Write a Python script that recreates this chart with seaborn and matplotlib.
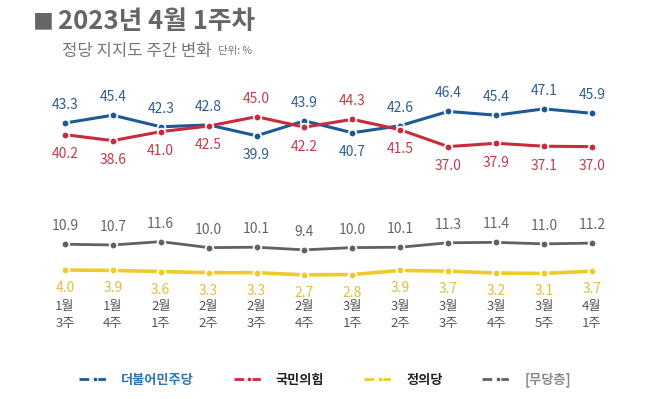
import pandas as pd
import matplotlib.pyplot as plt
import seaborn as sns
from matplotlib.lines import Line2D

# 주차 라벨
weeks = ['1월\n3주', '1월\n4주', '2월\n1주', '2월\n2주', '2월\n3주', '2월\n4주',
         '3월\n1주', '3월\n2주', '3월\n3주', '3월\n4주', '3월\n5주', '4월\n1주']

# 정당별 지지도 (%)
minjoo = [43.3, 45.4, 42.3, 42.8, 39.9, 43.9, 40.7, 42.6, 46.4, 45.4, 47.1, 45.9]
ppp = [40.2, 38.6, 41.0, 42.5, 45.0, 42.2, 44.3, 41.5, 37.0, 37.9, 37.1, 37.0]
justice = [4.0, 3.9, 3.6, 3.3, 3.3, 2.7, 2.8, 3.9, 3.7, 3.2, 3.1, 3.7]
nonpartisan = [10.9, 10.7, 11.6, 10.0, 10.1, 9.4, 10.0, 10.1, 11.3, 11.4, 11.0, 11.2]

sns.set_style('white')
plt.rcParams['font.family'] = ['Noto Sans CJK KR', 'DejaVu Sans']

fig = plt.figure(figsize=(6.5, 3.99), dpi=100)
ax = fig.add_axes([0.063, 0.2857, 0.8846, 0.4687])

x = list(range(len(weeks)))
series = [
    ('더불어민주당', minjoo, '#1d5996', '#2f5f8c', 2.2),
    ('국민의힘', ppp, '#c92a3c', '#c23b4b', 2.2),
    ('정의당', justice, '#efcb2a', '#e3c441', 2.6),
    ('[무당층]', nonpartisan, '#616161', '#666666', 2.0),
]

for name, vals, col, lab_col, lw in series:
    sns.lineplot(x=x, y=vals, ax=ax, color=col, linewidth=lw, marker='o',
                 markersize=5.5, markeredgecolor='white', markeredgewidth=1.3)

def put_labels(vals, other, lab_col, always=None, down=-14):
    for i, v in enumerate(vals):
        if always is not None:
            up = always
        else:
            up = v >= other[i]
        ax.annotate(f'{v:.1f}', (i, v), xytext=(0, 13 if up else down),
                    textcoords='offset points', ha='center', va='center',
                    fontsize=10, color=lab_col)

put_labels(minjoo, ppp, '#2f5f8c')
put_labels(ppp, minjoo, '#c23b4b')
put_labels(nonpartisan, None, '#666666', always=True)
put_labels(justice, None, '#dcc043', always=False, down=-13)

ax.set_xlim(-0.5, 11.5)
ax.set_ylim(0, 50)
ax.set_xticks(x)
ax.set_xticklabels(weeks, fontsize=9.5, color='#555555', linespacing=1.4)
ax.tick_params(axis='x', length=0, pad=11)
ax.set_yticks([])
sns.despine(ax=ax, left=True, bottom=True)

# 제목
fig.text(0.05, 0.945, '■', fontsize=15, color='#666666', va='center', ha='left')
fig.text(0.09, 0.945, '2023년 4월 1주차', fontsize=18.5, fontweight='bold',
         color='#666666', va='center', ha='left')
fig.text(0.095, 0.872, '정당 지지도 주간 변화', fontsize=12, color='#777777',
         va='center', ha='left')
fig.text(0.336, 0.872, '단위: %', fontsize=7.5, color='#777777',
         va='center', ha='left')

# 범례
handles = [Line2D([0], [0], color=col, linewidth=2, linestyle=(0, (3.5, 2.5)),
                  marker='o', markersize=3.5, markeredgecolor='white',
                  markeredgewidth=0.8)
           for _, _, col, _, _ in series]
leg = fig.legend(handles, [s[0] for s in series], ncol=4, loc='center',
                 bbox_to_anchor=(0.5, 1 - 380 / 399), frameon=False,
                 handlelength=2.4, columnspacing=3.0,
                 prop={'weight': 'bold', 'size': 9.5})
for txt, c in zip(leg.get_texts(), ['#2a78b8', '#222222', '#222222', '#8a8a8a']):
    txt.set_color(c)

fig.savefig('out.png', dpi=100)
